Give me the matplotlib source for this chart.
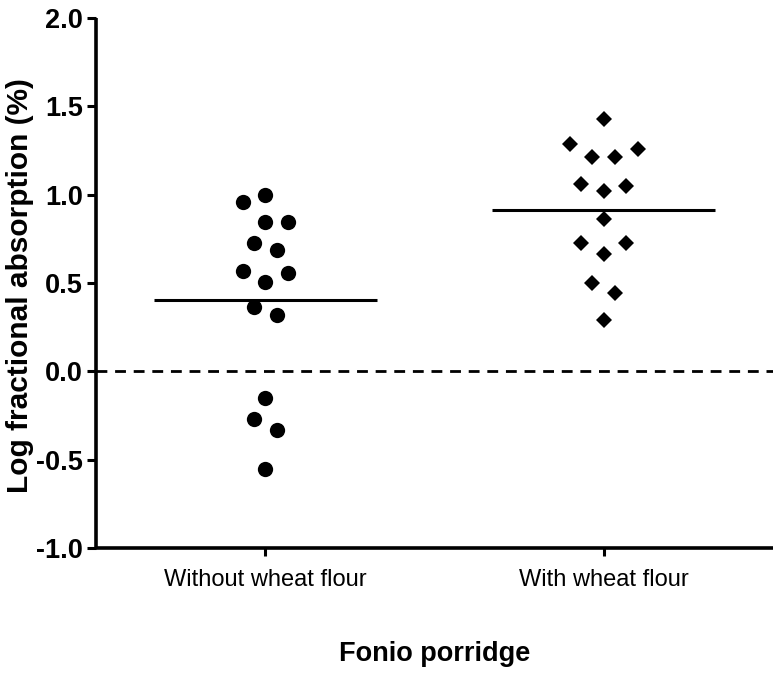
from __future__ import annotations

import matplotlib

matplotlib.use("Agg")
import matplotlib.pyplot as plt
import numpy as np


GROUPS = ["Without wheat flour", "With wheat flour"]

# log fractional absorption values
WITHOUT_WHEAT = [0.956, 0.998, 0.845, 0.845, 0.728, 0.686, 0.568, 0.558,
                 0.507, 0.366, 0.317, -0.153, -0.272, -0.332, -0.553]
WITH_WHEAT = [1.426, 1.286, 1.215, 1.215, 1.256, 1.058, 1.020, 1.049,
              0.860, 0.724, 0.724, 0.662, 0.498, 0.445, 0.290]

# column slot of each point in the scatter (GraphPad style spreading)
WITHOUT_SLOTS = [-2, 0, 0, 2, -1, 1, -2, 2, 0, -1, 1, 0, -1, 1, 0]
WITH_SLOTS = [0, -3, -1, 1, 3, -2, 0, 2, 0, -2, 2, 0, -1, 1, 0]

Y_TICKS = [-1.0, -0.5, 0.0, 0.5, 1.0, 1.5, 2.0]

SLOT_STEP = 0.0333
MEAN_HALF_WIDTH = 0.33
FONT = "Liberation Sans"


def main() -> None:
    plt.rcParams["font.family"] = [FONT, "DejaVu Sans"]

    fig = plt.figure(figsize=(7.8, 6.77), dpi=100)
    fig.patch.set_facecolor("white")
    ax = fig.add_axes([0.1231, 0.1905, 0.8679, 0.7829])

    series = [
        (WITHOUT_WHEAT, WITHOUT_SLOTS, "o", 11.0),
        (WITH_WHEAT, WITH_SLOTS, "D", 8.0),
    ]
    for i, (values, slots, marker, size) in enumerate(series):
        vals = np.asarray(values)
        xs = i + np.asarray(slots) * SLOT_STEP
        ax.plot(xs, vals, linestyle="none", marker=marker, markersize=size,
                color="black", markeredgewidth=0, zorder=3)
        mean = vals.mean()
        ax.plot([i - MEAN_HALF_WIDTH, i + MEAN_HALF_WIDTH], [mean, mean],
                color="black", linewidth=2.2, solid_capstyle="butt", zorder=2)

    ax.axhline(0, color="black", linewidth=2.0,
               linestyle=(0, (3.9, 2.8)), zorder=1)

    ax.set_xlim(-0.5, 1.5)
    ax.set_ylim(-1.0, 2.0)
    ax.set_yticks(Y_TICKS)
    ax.set_yticklabels([f"{t:.1f}" for t in Y_TICKS],
                       fontsize=19.5, fontweight="bold")
    ax.set_xticks(range(len(GROUPS)))
    ax.set_xticklabels(GROUPS, fontsize=17)

    ax.spines["top"].set_visible(False)
    ax.spines["right"].set_visible(False)
    for side in ("left", "bottom"):
        ax.spines[side].set_linewidth(2.6)
        ax.spines[side].set_color("black")
        ax.spines[side].set_capstyle("butt")

    ax.tick_params(axis="y", direction="out", length=6.5, width=2.2, pad=3)
    ax.tick_params(axis="x", direction="out", length=6.0, width=2.2, pad=9)

    ax.set_ylabel("Log fractional absorption (%)", fontsize=21.5,
                  fontweight="bold")
    ax.yaxis.set_label_coords(-0.092, 0.495)
    ax.set_xlabel("Fonio porridge", fontsize=19.5, fontweight="bold",
                  labelpad=36)

    fig.savefig("out.png", dpi=100, facecolor="white")
    plt.close(fig)


if __name__ == "__main__":
    main()
